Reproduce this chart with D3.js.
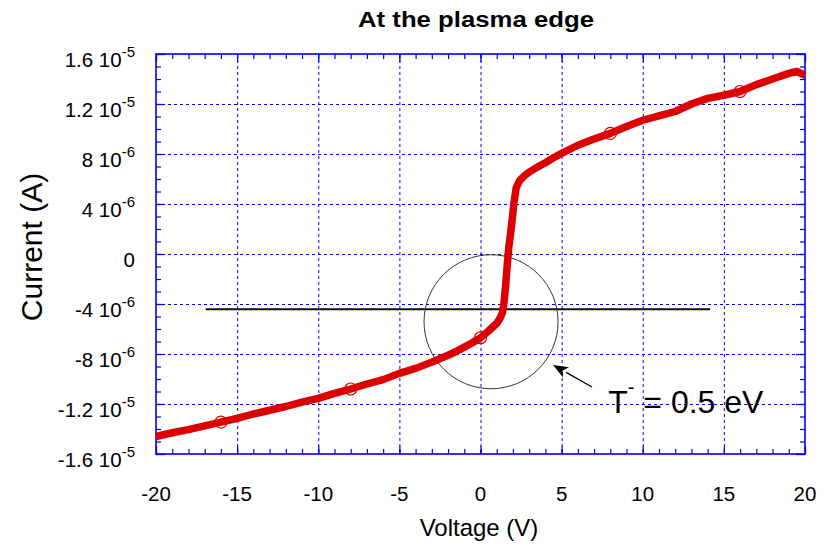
<!DOCTYPE html>
<html>
<head>
<meta charset="utf-8">
<script src="https://cdn.jsdelivr.net/npm/d3@7"></script>
<style>
  html, body { margin: 0; padding: 0; background: #fff; }
  svg { display: block; }
  text { font-family: "Liberation Sans", Arial, Helvetica, sans-serif; fill: #000; }
</style>
</head>
<body>
<svg id="chart" width="828" height="544"></svg>
<script>
// ---- data (current in units of 1e-6 A) ----
const voltage = [-20, -19, -18, -17, -16, -15, -14, -13, -12, -11, -10, -9, -8, -7, -6, -5, -4, -3, -2, -1.5, -1, -0.5, 0, 0.5, 1, 1.2, 1.35, 1.45, 1.55, 1.65, 1.75, 1.85, 1.95, 2.05, 2.2, 2.4, 2.7, 3, 3.5, 4, 4.5, 5, 6, 7, 8, 9, 10, 11, 12, 13, 14, 15, 16, 17, 18, 19, 19.5, 20];
const currentMicro = [-14.6, -14.3, -14.05, -13.75, -13.45, -13.15, -12.8, -12.5, -12.2, -11.85, -11.55, -11.15, -10.8, -10.4, -10.05, -9.55, -9.15, -8.65, -8.1, -7.8, -7.45, -7.1, -6.7, -6.15, -5.55, -5.15, -4.7, -3.9, -2.5, -0.8, 0.6, 1.6, 2.7, 4.0, 5.3, 5.85, 6.25, 6.55, 6.95, 7.3, 7.7, 8.05, 8.7, 9.2, 9.65, 10.2, 10.7, 11.05, 11.4, 12.0, 12.45, 12.7, 13.0, 13.55, 14.0, 14.45, 14.6, 14.3];
const markerVoltages = [-16, -8, 0, 8, 16];

const xMajorTicks = [-20, -15, -10, -5, 0, 5, 10, 15, 20];
const xTickLabels = ["-20", "-15", "-10", "-5", "0", "5", "10", "15", "20"];
const yMajorTicks = [16e-6, 12e-6, 8e-6, 4e-6, 0, -4e-6, -8e-6, -12e-6, -16e-6];
const yTickMantissa = ["1.6", "1.2", "8", "4", "0", "-4", "-8", "-1.2", "-1.6"];
const yTickExponent = ["-5", "-5", "-6", "-6", "", "-6", "-6", "-5", "-5"];

// annotation values
const hLineStartV = -16.94, hLineEndV = 14.15, hLineI = -4.42e-6;
const circleV = 0.65, circleI = -5.42e-6, circleRadiusV = 4.13;
const arrowTail = [6.87, -10.64e-6], arrowTip = [4.47, -8.88e-6];
const annoV = 7.87, annoI = -12.72e-6;

const titleText = "At the plasma edge";
const xTitle = "Voltage (V)";
const yTitle = "Current (A)";

// ---- layout ----
const pLeft = 156, pRight = 805, pTop = 54, pBottom = 454;
const svg = d3.select("#chart");
const x = d3.scaleLinear().domain([-20, 20]).range([pLeft, pRight]);
const y = d3.scaleLinear().domain([-16e-6, 16e-6]).range([pBottom, pTop]);
const blue = "#0000ee";

// grid
const grid = svg.append("g").attr("stroke", blue).attr("stroke-width", 1).attr("stroke-dasharray", "3,3");
grid.selectAll("line.gx").data(xMajorTicks.slice(1, -1)).join("line").attr("class", "gx")
  .attr("x1", d => x(d) + 0.5).attr("x2", d => x(d) + 0.5).attr("y1", pTop).attr("y2", pBottom);
grid.selectAll("line.gy").data(yMajorTicks.slice(1, -1)).join("line").attr("class", "gy")
  .attr("y1", d => y(d) + 0.5).attr("y2", d => y(d) + 0.5).attr("x1", pLeft).attr("x2", pRight);

// ticks via d3 axes (inward)
const xMinor = d3.range(-20, 20.01, 1);
const yMinor = d3.range(-16, 16.01, 1).map(v => v * 1e-6);
function styleAxis(g) {
  g.select(".domain").remove();
  g.selectAll(".tick line").attr("stroke", blue).attr("stroke-width", 1.2);
  g.selectAll(".tick text").remove();
}
svg.append("g").attr("transform", `translate(0,${pBottom})`).call(d3.axisBottom(x).tickValues(xMinor).tickSize(-5)).call(styleAxis);
svg.append("g").attr("transform", `translate(0,${pBottom})`).call(d3.axisBottom(x).tickValues(xMajorTicks).tickSize(-8)).call(styleAxis);
svg.append("g").attr("transform", `translate(0,${pTop})`).call(d3.axisTop(x).tickValues(xMinor).tickSize(-5)).call(styleAxis);
svg.append("g").attr("transform", `translate(0,${pTop})`).call(d3.axisTop(x).tickValues(xMajorTicks).tickSize(-8)).call(styleAxis);
svg.append("g").attr("transform", `translate(${pLeft},0)`).call(d3.axisLeft(y).tickValues(yMinor).tickSize(-5)).call(styleAxis);
svg.append("g").attr("transform", `translate(${pLeft},0)`).call(d3.axisLeft(y).tickValues(yMajorTicks).tickSize(-9)).call(styleAxis);
svg.append("g").attr("transform", `translate(${pRight},0)`).call(d3.axisRight(y).tickValues(yMinor).tickSize(-5)).call(styleAxis);
svg.append("g").attr("transform", `translate(${pRight},0)`).call(d3.axisRight(y).tickValues(yMajorTicks).tickSize(-9)).call(styleAxis);

// frame
svg.append("rect").attr("x", pLeft).attr("y", pTop).attr("width", pRight - pLeft).attr("height", pBottom - pTop)
  .attr("fill", "none").attr("stroke", blue).attr("stroke-width", 1.6);

// x tick labels
svg.append("g").selectAll("text").data(xMajorTicks).join("text")
  .attr("x", d => x(d)).attr("y", pBottom + 47)
  .attr("text-anchor", "middle").attr("font-size", 20.5)
  .text((d, i) => xTickLabels[i]);

// y tick labels with superscript exponent
const yl = svg.append("g").selectAll("text").data(yMajorTicks).join("text")
  .attr("x", 135).attr("y", d => y(d) + 13)
  .attr("text-anchor", "end").attr("font-size", 20.5);
yl.each(function(d, i) {
  const t = d3.select(this);
  if (yTickExponent[i] === "") {
    t.append("tspan").text(yTickMantissa[i]);
  } else {
    t.append("tspan").text(yTickMantissa[i] + " 10");
    t.append("tspan").attr("font-size", 15).attr("dy", -10).text(yTickExponent[i]);
  }
});

// annotation: horizontal line
svg.append("line")
  .attr("x1", x(hLineStartV)).attr("x2", x(hLineEndV))
  .attr("y1", y(hLineI)).attr("y2", y(hLineI))
  .attr("stroke", "#111").attr("stroke-width", 2);

// annotation circle
svg.append("circle")
  .attr("cx", x(circleV)).attr("cy", y(circleI))
  .attr("r", x(circleRadiusV) - x(0))
  .attr("fill", "none").attr("stroke", "#333").attr("stroke-width", 1);

// curve
const pts = voltage.map((v, i) => [v, currentMicro[i] * 1e-6]);
const line = d3.line().x(d => x(d[0])).y(d => y(d[1])).curve(d3.curveLinear);
svg.append("path").datum(pts).attr("d", line)
  .attr("fill", "none").attr("stroke", "#dd0000").attr("stroke-width", 7.5)
  .attr("stroke-linejoin", "round").attr("stroke-linecap", "butt");

// markers (open circles)
svg.append("g").selectAll("circle").data(markerVoltages).join("circle")
  .attr("cx", d => x(d))
  .attr("cy", d => y(currentMicro[voltage.indexOf(d)] * 1e-6))
  .attr("r", 6).attr("fill", "none").attr("stroke", "#e00000").attr("stroke-width", 1.2);

// arrow
const ax1 = x(arrowTail[0]), ay1 = y(arrowTail[1]), ax2 = x(arrowTip[0]), ay2 = y(arrowTip[1]);
const ang = Math.atan2(ay2 - ay1, ax2 - ax1);
const headLen = 15, headW = 6;
const bx = ax2 - headLen * Math.cos(ang), by = ay2 - headLen * Math.sin(ang);
svg.append("line").attr("x1", ax1).attr("y1", ay1).attr("x2", bx).attr("y2", by)
  .attr("stroke", "#000").attr("stroke-width", 1.3);
svg.append("path")
  .attr("d", `M${ax2},${ay2} L${bx + headW * Math.sin(ang)},${by - headW * Math.cos(ang)} L${bx + 4 * Math.cos(ang)},${by + 4 * Math.sin(ang)} L${bx - headW * Math.sin(ang)},${by + headW * Math.cos(ang)} Z`)
  .attr("fill", "#000");

// annotation text
const at = svg.append("text").attr("x", x(annoV)).attr("y", y(annoI)).attr("font-size", 32);
at.append("tspan").text("T");
at.append("tspan").attr("font-size", 20).attr("dy", -19).text("-");
at.append("tspan").attr("dy", 19).text("\u00a0= 0.5 eV");

// title
svg.append("text").attr("transform", "translate(476,27) scale(1.17,1)")
  .attr("text-anchor", "middle").attr("font-size", 22).attr("font-weight", "bold").text(titleText);

// axis titles
svg.append("text").attr("x", 479).attr("y", 536).attr("text-anchor", "middle").attr("font-size", 24).text(xTitle);
svg.append("text").attr("transform", "translate(42,247) rotate(-90)").attr("text-anchor", "middle").attr("font-size", 30).text(yTitle);
</script>
</body>
</html>
